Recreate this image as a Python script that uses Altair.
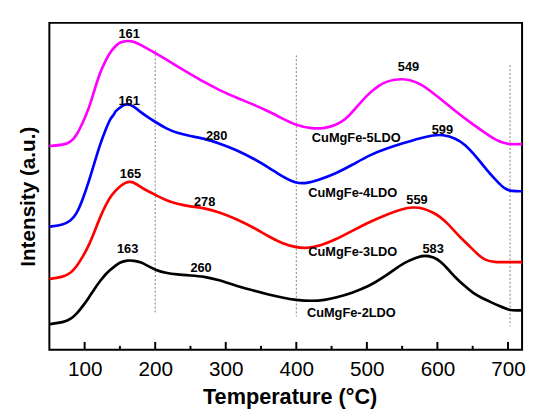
import altair as alt
import pandas as pd

# ---- data (intensity in arbitrary units) ----
t_5 = [50, 70, 80, 88, 97, 106, 114, 122, 130, 136, 143, 150, 161, 170, 180, 190, 201, 215, 231, 250,
       269, 290, 315, 340, 361, 380, 399, 423, 440, 456, 470, 480, 492, 504, 516, 528, 540, 550, 562,
       576, 590, 604, 626, 650, 674, 691, 705, 720]
i_5 = [207, 208, 211, 217, 230, 245, 264, 282, 294, 302, 308, 312.5, 314, 313, 309.5, 305.5, 301, 295,
       288, 280, 272, 264, 256, 249, 242, 235, 228, 224.5, 225, 228, 234, 242, 252, 261, 268, 272.5,
       274.5, 275, 274, 270, 263, 255, 242, 229, 217, 210, 208.5, 209]

t_4 = [50, 70, 80, 88, 97, 106, 114, 122, 130, 136, 139, 141, 143, 150, 156, 161, 168, 180, 190, 201,
       215, 231, 250, 269, 290, 315, 340, 361, 380, 399, 415, 430, 456, 480, 504, 530, 552, 575, 595,
       607, 626, 640, 650, 662, 674, 686, 696, 705, 720]
i_4 = [125, 127, 131, 137, 152, 171, 190, 209, 224, 234, 237, 238, 242, 246, 249, 249.5, 248, 241, 236,
       231, 225, 220, 217, 214.5, 210, 203, 194, 185, 176, 169, 169, 172, 179, 188, 198, 205, 210, 215,
       218, 218.5, 215, 208, 200, 190, 179, 170, 163, 161, 161]

t_3 = [50, 70, 80, 88, 97, 106, 114, 122, 130, 136, 143, 150, 158, 165, 172, 180, 190, 201, 215, 231,
       250, 269, 290, 315, 340, 361, 380, 399, 415, 435, 456, 480, 504, 530, 550, 565, 580, 595, 604,
       615, 626, 640, 650, 660, 668, 680, 700, 720]
i_3 = [72, 74, 78, 84, 94, 106, 120, 135, 147, 155, 161, 166, 170, 171, 169, 165, 161, 157, 152, 148,
       145.5, 144, 140, 133, 124, 115, 108, 104, 103, 106, 112, 121, 130, 138, 143, 145, 144, 139, 135,
       128, 119, 109, 102, 95, 91, 89, 89, 89]

t_2 = [50, 70, 80, 88, 97, 106, 114, 122, 130, 136, 143, 150, 161, 170, 180, 190, 201, 215, 231, 250,
       269, 290, 315, 340, 361, 380, 399, 423, 440, 456, 480, 504, 520, 540, 552, 570, 583, 595, 604,
       615, 626, 640, 650, 662, 674, 686, 700, 705, 720]
i_2 = [26, 28, 31, 36, 44, 53, 62, 70, 77, 81, 85, 89, 91, 90.5, 89, 85, 81, 78, 76.5, 75.5, 74.5, 71,
       65, 60, 56, 53, 50.5, 49.5, 50.5, 53, 58, 65, 72, 82, 88, 94, 96, 94, 90, 82, 73, 64, 58, 53, 49,
       45, 41, 40, 40]

series_names = ["CuMgFe-5LDO", "CuMgFe-4LDO", "CuMgFe-3LDO", "CuMgFe-2LDO"]
series_colors = ["#ff00ff", "#0000ff", "#ff0000", "#000000"]

label_text = ["161", "549", "CuMgFe-5LDO", "161", "280", "599", "CuMgFe-4LDO",
              "165", "278", "559", "CuMgFe-3LDO", "163", "260", "583", "CuMgFe-2LDO"]
label_t = [163, 559, 485, 163, 287, 607, 480, 165, 270, 571, 480, 161, 265, 594, 478]
label_i = [321, 287, 215.5, 253, 217, 223, 159, 178, 150, 152, 99, 102, 83.5, 102, 37.5]

guide_t = [200, 400, 703]
guide_top = [304, 299, 289]
guide_bottom = [36, 34, 24]

major_ticks = [100, 200, 300, 400, 500, 600, 700]
minor_ticks = [150, 250, 350, 450, 550, 650]

# ---- tables ----
rows = []
for name, ts, vs in zip(series_names, [t_5, t_4, t_3, t_2], [i_5, i_4, i_3, i_2]):
    for t, v in zip(ts, vs):
        rows.append({"series": name, "T": t, "I": v})
curves = pd.DataFrame(rows)
labels = pd.DataFrame({"text": label_text, "T": label_t, "I": label_i})
guides = pd.DataFrame({"T": guide_t, "top": guide_top, "bottom": guide_bottom})
majors = pd.DataFrame({"T": major_ticks})
minors = pd.DataFrame({"T": minor_ticks})

FONT = "Liberation Sans"
xscale = alt.Scale(domain=[50, 720], nice=False, zero=False)
yscale = alt.Scale(domain=[0, 332], nice=False, zero=False)

x_axis = alt.Axis(values=major_ticks, ticks=False, tickSize=0, domain=False, grid=False,
                  labelFont=FONT, labelFontSize=21, labelColor="black", labelPadding=9,
                  title="Temperature (°C)", titleFont=FONT, titleFontSize=22,
                  titleFontWeight="bold", titleColor="black", titlePadding=8, titleX=244)
y_axis = alt.Axis(labels=False, ticks=False, tickSize=0, domain=False, grid=False,
                  title="Intensity (a.u.)", titleFont=FONT, titleFontSize=21,
                  titleFontWeight="bold", titleColor="black", titlePadding=11, titleY=176)

lines = alt.Chart(curves).mark_line(strokeWidth=2.7, interpolate="basis").encode(
    x=alt.X("T:Q", scale=xscale, axis=x_axis),
    y=alt.Y("I:Q", scale=yscale, axis=y_axis),
    color=alt.Color("series:N", scale=alt.Scale(domain=series_names, range=series_colors), legend=None),
    order="T:Q",
)

guide_rules = alt.Chart(guides).mark_rule(color="#808080", strokeWidth=1, strokeDash=[2, 2]).encode(
    x=alt.X("T:Q", scale=xscale),
    y=alt.Y("top:Q", scale=yscale),
    y2="bottom:Q",
)

major_rules = alt.Chart(majors).mark_rule(color="black", strokeWidth=2).encode(
    x=alt.X("T:Q", scale=xscale),
    y=alt.value(332),
    y2=alt.value(324),
)
minor_rules = alt.Chart(minors).mark_rule(color="black", strokeWidth=2).encode(
    x=alt.X("T:Q", scale=xscale),
    y=alt.value(332),
    y2=alt.value(328),
)

texts = alt.Chart(labels).mark_text(font=FONT, fontSize=13, fontWeight="bold", color="black",
                                    align="center", baseline="middle").encode(
    x=alt.X("T:Q", scale=xscale),
    y=alt.Y("I:Q", scale=yscale),
    text="text:N",
)

chart = alt.layer(guide_rules, lines, major_rules, minor_rules, texts).properties(
    width=480, height=332,
    autosize=alt.AutoSizeParams(type="none"),
    padding={"left": 42, "top": 12, "right": 5, "bottom": 58},
    background="white",
).configure_view(stroke="black", strokeWidth=2)

chart.save("out.html", embed_options={"renderer": "svg", "actions": False})
